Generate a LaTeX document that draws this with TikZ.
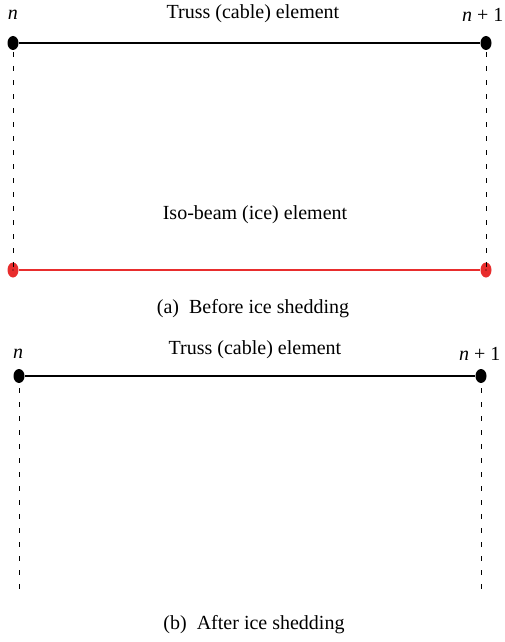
\documentclass[tikz,border=0pt]{standalone}
\usepackage{fontspec}
\setmainfont{Liberation Serif}
\usetikzlibrary{shapes.geometric}
\definecolor{icered}{RGB}{232,45,45}
\begin{document}
\begin{tikzpicture}[x=1pt,y=-1pt,
  lbl/.style={inner sep=0pt,font=\fontsize{20}{24}\selectfont},
  bnode/.style={ellipse,fill=black,minimum width=11pt,minimum height=14pt,inner sep=0pt},
  rnode/.style={ellipse,fill=icered,minimum width=11pt,minimum height=15pt,inner sep=0pt},
  cable/.style={line width=1.3pt,black},
  ice/.style={line width=1.6pt,icered},
  guide/.style={line width=0.8pt,dash pattern=on 5pt off 9pt}]
\useasboundingbox (0,0) rectangle (504,642);
% panel a
\node[bnode] (a1) at (13,43) {};
\node[bnode] (a2) at (486,43) {};
\draw[cable] (a1) -- (a2);
\node[lbl] (an) at (13,15) {\textit{n}};
\node[lbl,anchor=east] (an1) at (503.5,15) {\textit{n} + 1};
\node[lbl] (at) at (253,14) {Truss (cable) element};
\coordinate (a1d) at (13,52);
\coordinate (a2d) at (486,52);
\node[rnode] (r1) at (13,270) {};
\node[rnode] (r2) at (486,270) {};
\draw[guide] (a1d) -- (r1.center);
\draw[guide] (a2d) -- (r2.center);
\draw[ice] (r1) -- (r2);
\fill (r1.center) circle (0.7pt);
\fill (r2.center) circle (0.7pt);
\node[lbl] (ai) at (255,215) {Iso-beam (ice) element};
\node[lbl] (ac) at (253,309) {(a)\ \ Before ice shedding};
% panel b
\node[bnode] (b1) at (19,376) {};
\node[bnode] (b2) at (481,376) {};
\draw[cable] (b1) -- (b2);
\node[lbl] (bn) at (18,354) {\textit{n}};
\node[lbl,anchor=east] (bn1) at (500.5,354) {\textit{n} + 1};
\node[lbl] (bt) at (255,350) {Truss (cable) element};
\coordinate (b1s) at (19,388);
\coordinate (b1e) at (19,596);
\coordinate (b2s) at (481,388);
\coordinate (b2e) at (481,596);
\draw[guide] (b1s) -- (b1e);
\draw[guide] (b2s) -- (b2e);
\node[lbl] (bc) at (254,625) {(b)\ \ After ice shedding};
\end{tikzpicture}
\end{document}
